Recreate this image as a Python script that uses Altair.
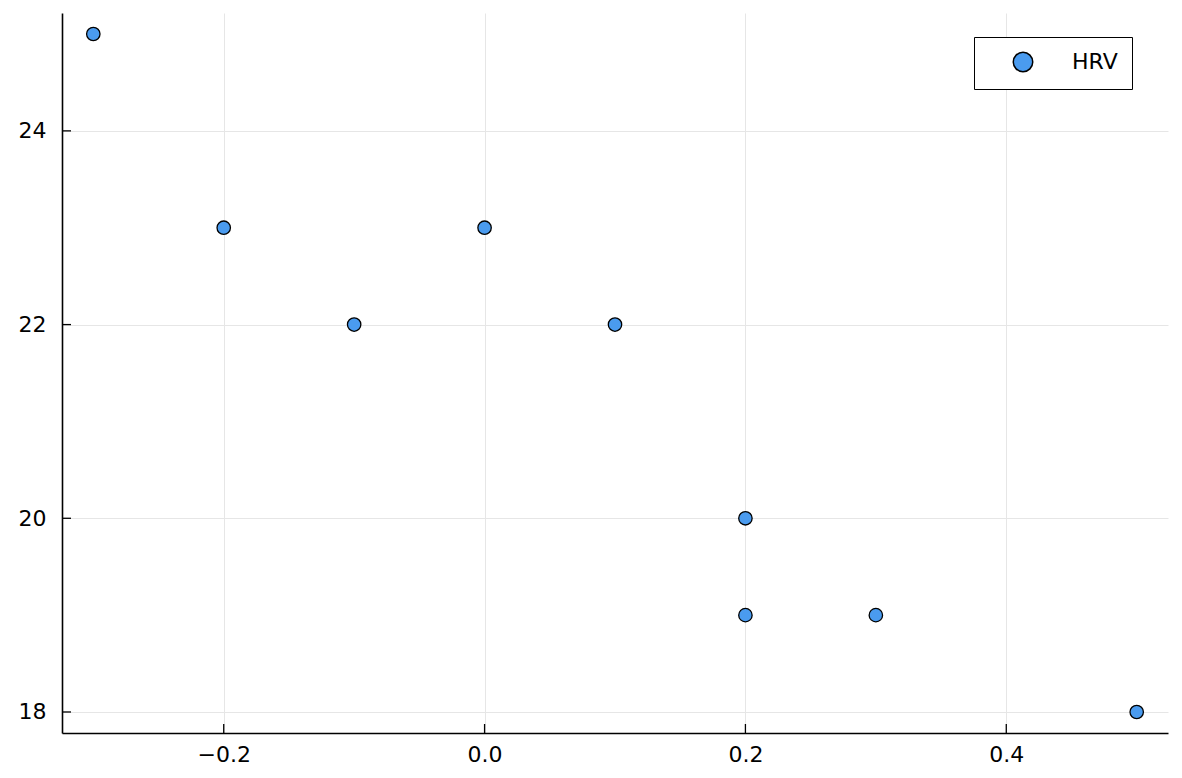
import altair as alt
import pandas as pd

# data
x_vals = [-0.3, -0.2, -0.1, 0.0, 0.1, 0.2, 0.2, 0.3, 0.5]
y_vals = [25, 23, 22, 23, 22, 20, 19, 19, 18]
series_name = "HRV"
x_ticks = [-0.2, 0.0, 0.2, 0.4]
y_ticks = [18, 20, 22, 24]

W, H = 1106, 720
XDOM = [-0.324, 0.524]
YDOM = [17.783, 25.217]
FONT = "DejaVu Sans"
COLOR = "#4A9BEF"

df = pd.DataFrame({"x": x_vals, "y": y_vals, "series": [series_name] * len(x_vals)})
xt = pd.DataFrame({"x": x_ticks})
yt = pd.DataFrame({"y": y_ticks})

xscale = alt.Scale(domain=XDOM, nice=False, zero=False)
yscale = alt.Scale(domain=YDOM, nice=False, zero=False)

xaxis = alt.Axis(values=x_ticks, format=".1f", title=None, grid=True, gridColor="#e6e6e6",
                 gridWidth=1, domainColor="black", domainWidth=1.6, ticks=False,
                 labelFont=FONT, labelFontSize=22, labelColor="black", labelPadding=11)
yaxis = alt.Axis(values=y_ticks, format="d", title=None, grid=True, gridColor="#e6e6e6",
                 gridWidth=1, domainColor="black", domainWidth=1.6, ticks=False,
                 labelFont=FONT, labelFontSize=22, labelColor="black", labelPadding=16)

points = alt.Chart(df).mark_point(filled=True, size=180, stroke="black", strokeWidth=1.3,
                                  opacity=1, shape="circle").encode(
    x=alt.X("x:Q", scale=xscale, axis=xaxis),
    y=alt.Y("y:Q", scale=yscale, axis=yaxis),
    fill=alt.Fill("series:N", scale=alt.Scale(range=[COLOR]),
                  legend=alt.Legend(title=None, orient="none", legendX=912, legendY=24,
                                    strokeColor="black", fillColor="white", padding=14,
                                    symbolType="circle", symbolSize=380,
                                    symbolStrokeColor="black", symbolStrokeWidth=1.5,
                                    symbolOffset=24, labelOffset=38,
                                    labelFont=FONT, labelFontSize=22, labelColor="black",
                                    cornerRadius=0)),
)

xtick_rules = alt.Chart(xt).mark_rule(color="black", strokeWidth=1.3).encode(
    x=alt.X("x:Q", scale=xscale),
    y=alt.value(H), y2=alt.value(H - 9),
)
ytick_rules = alt.Chart(yt).mark_rule(color="black", strokeWidth=1.3).encode(
    y=alt.Y("y:Q", scale=yscale),
    x=alt.value(0), x2=alt.value(9),
)

chart = alt.layer(points, xtick_rules, ytick_rules).properties(
    width=W, height=H,
    autosize=alt.AutoSizeParams(type="none"),
    padding={"left": 54, "top": 5, "right": 6, "bottom": 37},
).configure_view(stroke=None)

chart.save("out.html", embed_options={"renderer": "svg", "actions": False})
